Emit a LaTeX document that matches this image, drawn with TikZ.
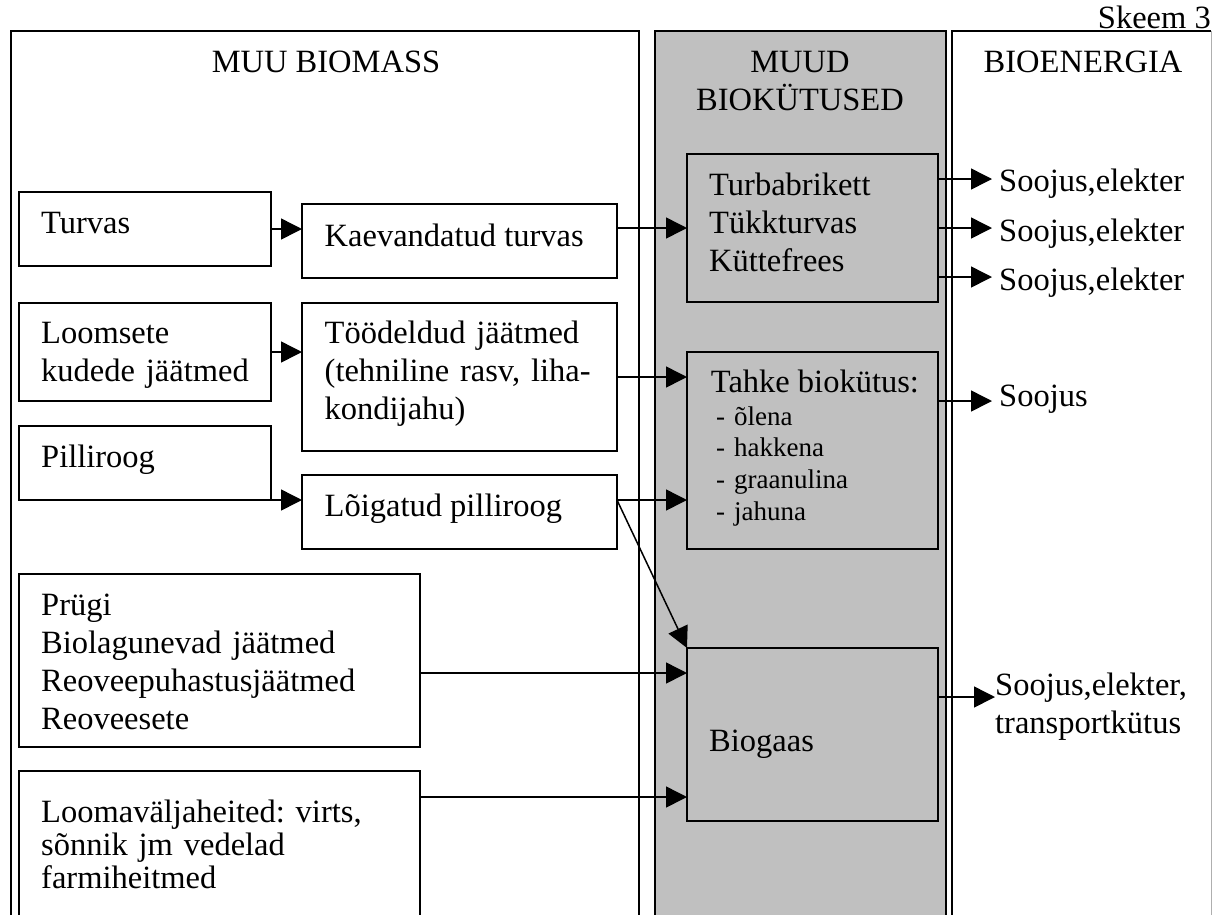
\documentclass[tikz,border=0pt]{standalone}
\usepackage{fontspec}
\setmainfont{Liberation Serif}
\usetikzlibrary{arrows.meta,calc}
\definecolor{panelgray}{RGB}{192,192,192}
\definecolor{edgegray}{RGB}{175,175,175}
\begin{document}
\frenchspacing
\begin{tikzpicture}[x=1pt,y=-1pt,
  panel/.style={draw=black,line width=2.2pt,anchor=north west,inner sep=0pt,outer sep=0pt},
  box/.style={draw=black,line width=1.8pt,anchor=north west,inner sep=0pt,outer sep=0pt},
  gbox/.style={box,fill=panelgray},
  txt/.style={anchor=base west,inner sep=0pt,font=\frenchspacing\fontsize{32.5}{38}\selectfont},
  mtxt/.style={txt,align=left,text width=#1},
  smalltxt/.style={anchor=base west,inner sep=0pt,align=left,text width=#1,font=\frenchspacing\fontsize{27}{31.7}\selectfont},
  outtxt/.style={txt,inner xsep=7pt,inner ysep=0pt},
  arr/.style={line width=1.5pt,-{Triangle[length=21pt,width=21pt]}}]

\clip (0,0) rectangle (1221,914);

% panels
\node[panel,minimum width=628pt,minimum height=910pt] (p1) at (11,31) {};
\node[panel,fill=panelgray,minimum width=291pt,minimum height=910pt] (p2) at (655,31) {};
\node[anchor=north west,inner sep=0pt,outer sep=0pt,minimum width=259pt,minimum height=910pt] (p3) at (952,31) {};
\draw[line width=2.2pt] (p3.south west) -- (p3.north west) -- (p3.north east);
\draw[edgegray,line width=1pt] (p3.north east) -- (p3.south east);

% headers
\node[txt,anchor=base] (h1) at (326,72.7) {MUU BIOMASS};
\node[txt,anchor=base,align=center,text width=280pt] (h2) at (800,72.7) {MUUD\\BIOKÜTUSED};
\node[txt,anchor=base] (h3) at (1083,72.7) {BIOENERGIA};
\node[txt,anchor=base east] (sk) at (1211,28.3) {Skeem 3};

% left boxes
\node[box,minimum width=252pt,minimum height=74pt] (turvas) at (19,192) {};
\node[box,minimum width=315pt,minimum height=74pt] (kaev) at (302,204) {};
\node[box,minimum width=252pt,minimum height=98pt] (loom) at (19,303) {};
\node[box,minimum width=315pt,minimum height=148pt] (tood) at (302,303) {};
\node[box,minimum width=252pt,minimum height=74pt] (pill) at (19,426) {};
\node[box,minimum width=315pt,minimum height=74pt] (loig) at (302,475) {};
\node[box,minimum width=401pt,minimum height=173pt] (prugi) at (19,574) {};
\node[box,minimum width=401pt,minimum height=170pt] (looma) at (19,771) {};

% gray boxes
\node[gbox,minimum width=251pt,minimum height=148pt] (turb) at (687,154) {};
\node[gbox,minimum width=251pt,minimum height=197pt] (tahke) at (687,352) {};
\node[gbox,minimum width=251pt,minimum height=173pt] (bio) at (687,648) {};

% texts in boxes
\node[txt] (tTurvas) at (41,233.3) {Turvas};
\node[txt] (tKaev) at (324.5,246) {Kaevandatud turvas};
\node[mtxt=240pt] (tLoom) at (41,343.3) {Loomsete\\kudede jäätmed};
\node[mtxt=300pt] (tTood) at (324.5,343.3) {Töödeldud jäätmed\\(tehniline rasv, liha-\\kondijahu)};
\node[txt] (tPill) at (41,467.7) {Pilliroog};
\node[txt] (tLoig) at (324.5,516.7) {Lõigatud pilliroog};
\node[mtxt=370pt] (tPrugi) at (41,615) {Prügi\\Biolagunevad jäätmed\\Reoveepuhastusjäätmed\\Reoveesete};
\node[mtxt=370pt,font=\frenchspacing\fontsize{32.5}{33}\selectfont] (tLooma) at (41,822.7) {Loomaväljaheited: virts,\\sõnnik jm vedelad\\farmiheitmed};
\node[mtxt=220pt,font=\frenchspacing\fontsize{32.5}{38.3}\selectfont] (tTurb) at (709,195) {Turbabrikett\\Tükkturvas\\Küttefrees};
\node[txt] (tTahke) at (710.7,392.7) {Tahke biokütus:};
\node[smalltxt=160pt] (tList) at (716,425) {- õlena\\- hakkena\\- graanulina\\- jahuna};
\node[txt] (tBio) at (709,751.7) {Biogaas};

% outputs
\node[outtxt] (o1) at (992,191.7) {Soojus,elekter};
\node[outtxt] (o2) at (992,241.7) {Soojus,elekter};
\node[outtxt] (o3) at (992,290.3) {Soojus,elekter};
\node[outtxt] (o4) at (992,406.7) {Soojus};
\node[mtxt=215pt,font=\frenchspacing\fontsize{32.5}{38.3}\selectfont] (o5) at (995,695) {Soojus,elekter,\\transportkütus};

% connectors
\draw[arr] (turvas.east) -- (turvas.east -| kaev.west);
\draw[arr] (kaev.east |- turb.west) -- (turb.west);
\draw[arr] (loom.east) -- (loom.east -| tood.west);
\draw[arr] (tood.east) -- (tood.east -| tahke.west);
\draw[arr] (pill.south east) -- (pill.south east -| loig.west);
\draw[arr] (loig.east |- pill.south) -- (tahke.west |- pill.south);
\draw[arr] (loig.east |- pill.south) -- (bio.north west);
\coordinate (bin1) at ($(bio.north west)+(0,25)$);
\coordinate (bin2) at ($(bio.south west)+(0,-24)$);
\draw[arr] (prugi.east |- bin1) -- (bin1);
\draw[arr] (looma.east |- bin2) -- (bin2);

\coordinate (c1) at ($(turb.north east)+(0,25)$);
\coordinate (c3) at ($(turb.south east)+(0,-25)$);
\coordinate (c4) at ($(tahke.north east)+(0,49)$);
\coordinate (c5) at ($(bio.north east)+(0,49)$);
\draw[arr] (c1) -- (c1 -| o1.west);
\draw[arr] (turb.east) -- (turb.east -| o2.west);
\draw[arr] (c3) -- (c3 -| o3.west);
\draw[arr] (c4) -- (c4 -| o4.west);
\draw[arr] (c5) -- (c5 -| o5.west);
\end{tikzpicture}
\end{document}
